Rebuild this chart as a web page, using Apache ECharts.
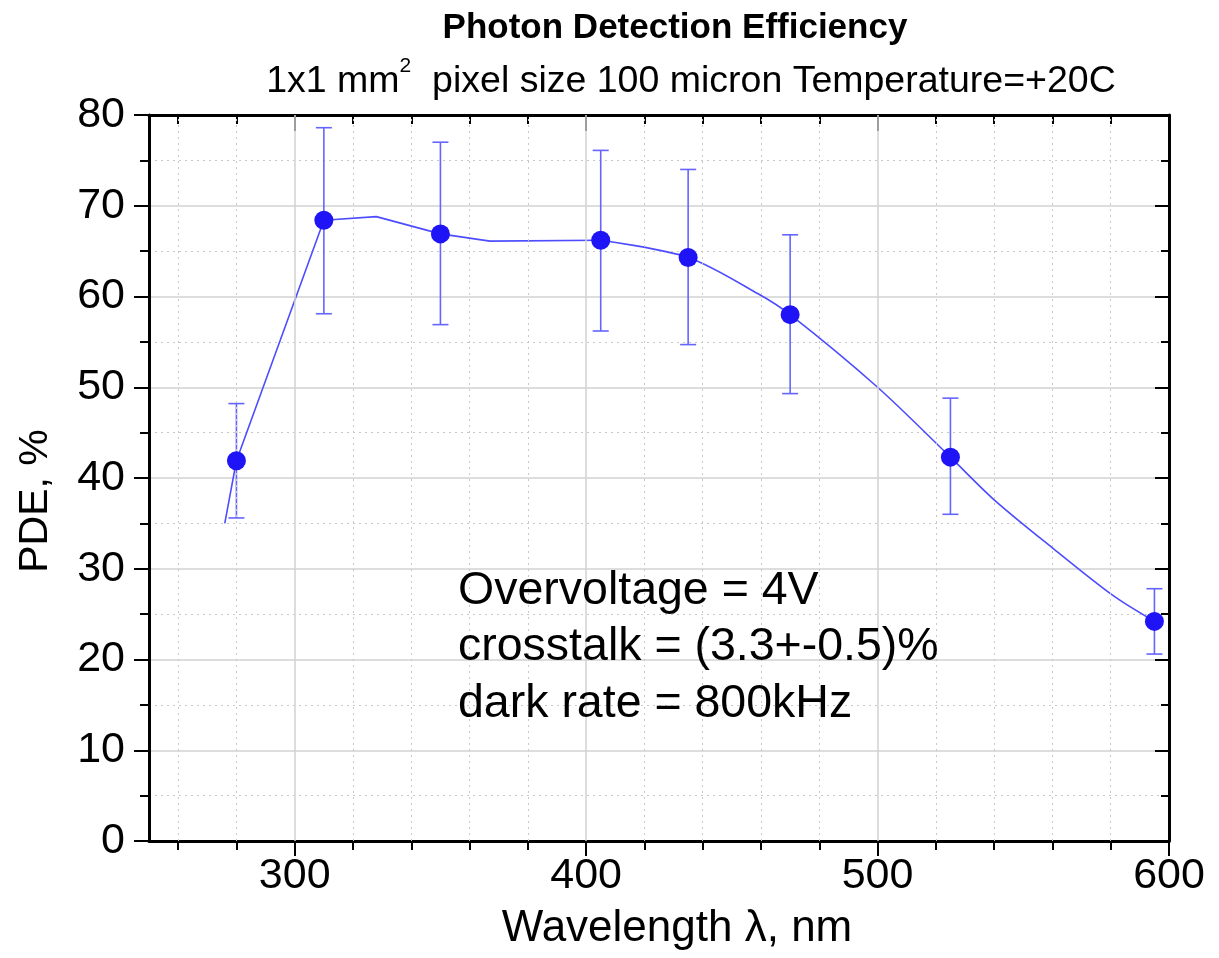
<!DOCTYPE html>
<html>
<head>
<meta charset="utf-8">
<script src="https://cdn.jsdelivr.net/npm/echarts@6/dist/echarts.min.js"></script>
<style>
html,body{margin:0;padding:0;background:#fff;}
#chart{width:1219px;height:958px;}
</style>
</head>
<body>
<div id="chart"></div>
<script>
// ---- data ----
const wavelengths = [280, 310, 350, 405, 435, 470, 525, 595];
const pde         = [41.9, 68.4, 66.9, 66.2, 64.3, 58.0, 42.3, 24.2];
const errLow      = [35.6, 58.1, 56.9, 56.2, 54.7, 49.3, 36.0, 20.6];
const errHigh     = [48.2, 78.6, 77.0, 76.1, 74.0, 66.8, 48.8, 27.8];

// guide curve: straight part on the left, smooth part on the right
const curveLeftX  = [276, 280, 310, 328, 350, 367, 405];
const curveLeftY  = [35.0, 41.9, 68.4, 68.8, 66.9, 66.1, 66.2];
const curveRightX = [405, 435, 459, 470, 500, 525, 540, 560, 581, 595];
const curveRightY = [66.2, 64.3, 60.3, 58.0, 50.0, 42.3, 37.6, 32.3, 27.0, 24.2];

// axis ticks
const xMajorTicks = [300, 400, 500, 600];
const xMinorTicks = [260, 280, 320, 340, 360, 380, 420, 440, 460, 480, 520, 540, 560, 580];
const xGridMajor  = [300, 400, 500];

const titleText = 'Photon Detection Efficiency';
const annotationLines = ['Overvoltage = 4V', 'crosstalk = (3.3+-0.5)%', 'dark rate = 800kHz'];

const FONT = '"Liberation Sans", Arial, Helvetica, sans-serif';
const BLUE = '#1e14f5';
const LINE = '#4d4dff';
const chart = echarts.init(document.getElementById('chart'), null, {renderer: 'canvas'});

const xBase = {
  type: 'value', min: 250, max: 600, gridIndex: 0,
  splitLine: {show: false}, minorSplitLine: {show: false}
};

const option = {
  backgroundColor: '#fff',
  animation: false,
  title: [
    {text: titleText, left: 670, top: 6, textAlign: 'center',
     textStyle: {fontFamily: FONT, fontSize: 35, fontWeight: 'bold', color: '#000'}},
    {text: '{a|1x1 mm}{s|2}{a|  pixel size 100 micron Temperature=+20C}', left: 686, top: 51, textAlign: 'center',
     textStyle: {fontFamily: FONT, color: '#000', fontWeight: 'normal',
       rich: {
         a: {fontFamily: FONT, fontSize: 37.5, fontWeight: 'normal', color: '#000', verticalAlign: 'bottom', lineHeight: 45},
         s: {fontFamily: FONT, fontSize: 21, fontWeight: 'normal', color: '#000', verticalAlign: 'top', lineHeight: 45}
       }}}
  ],
  grid: {left: 149, right: 50, top: 115, bottom: 117, containLabel: false},
  xAxis: [
    Object.assign({}, xBase, {
      position: 'bottom',
      axisLine: {show: true, onZero: false, lineStyle: {color: '#000', width: 3}},
      axisTick: {show: true, inside: false, length: 15, customValues: xMajorTicks, lineStyle: {color: '#000', width: 2}},
      axisLabel: {show: true, customValues: xMajorTicks, margin: 14, fontFamily: FONT, fontSize: 43, color: '#000'}
    }),
    Object.assign({}, xBase, {
      position: 'bottom',
      axisLine: {show: false, onZero: false},
      axisTick: {show: true, inside: false, length: 9, customValues: xMinorTicks, lineStyle: {color: '#000', width: 2}},
      axisLabel: {show: false}
    }),
    Object.assign({}, xBase, {
      position: 'top',
      axisLine: {show: true, onZero: false, lineStyle: {color: '#000', width: 3}},
      axisTick: {show: true, inside: true, length: 16, customValues: xMajorTicks, lineStyle: {color: '#000', width: 2}},
      axisLabel: {show: false}
    }),
    Object.assign({}, xBase, {
      position: 'top',
      axisLine: {show: false, onZero: false},
      axisTick: {show: true, inside: true, length: 9, customValues: xMinorTicks, lineStyle: {color: '#000', width: 2}},
      axisLabel: {show: false}
    })
  ],
  yAxis: [
    {
      type: 'value', min: 0, max: 80, interval: 10, position: 'left',
      axisLine: {show: true, onZero: false, lineStyle: {color: '#000', width: 3}},
      axisTick: {show: true, inside: false, length: 15, lineStyle: {color: '#000', width: 2}},
      minorTick: {show: true, splitNumber: 2, length: 9, lineStyle: {color: '#000', width: 2}},
      axisLabel: {show: true, margin: 24, fontFamily: FONT, fontSize: 43, color: '#000'},
      splitLine: {show: true, lineStyle: {color: '#d2d2d2', width: 1.5, type: 'solid'}},
      minorSplitLine: {show: true, lineStyle: {color: '#c8c8c8', width: 1, type: [2, 4]}}
    },
    {
      type: 'value', min: 0, max: 80, interval: 10, position: 'right',
      axisLine: {show: true, onZero: false, lineStyle: {color: '#000', width: 3}},
      axisTick: {show: true, inside: true, length: 14, lineStyle: {color: '#000', width: 2}},
      minorTick: {show: true, splitNumber: 2, length: 8, lineStyle: {color: '#000', width: 2}},
      axisLabel: {show: false},
      splitLine: {show: false}
    }
  ],
  series: [
    {
      // vertical grid lines
      type: 'line', xAxisIndex: 0, yAxisIndex: 0, data: [], silent: true, z: 1,
      markLine: {
        silent: true, symbol: 'none', label: {show: false}, animation: false,
        data: xGridMajor.map(v => ({xAxis: v, lineStyle: {color: '#d2d2d2', width: 1.5, type: 'solid'}}))
          .concat(xMinorTicks.map(v => ({xAxis: v, lineStyle: {color: '#c8c8c8', width: 1, type: [2, 4]}})))
      }
    },
    {
      name: 'curveLeft', type: 'line', xAxisIndex: 0, yAxisIndex: 0, z: 3,
      data: curveLeftX.map((x, i) => [x, curveLeftY[i]]),
      smooth: false, symbol: 'none',
      lineStyle: {color: LINE, width: 1.6}
    },
    {
      name: 'curveRight', type: 'line', xAxisIndex: 0, yAxisIndex: 0, z: 3,
      data: curveRightX.map((x, i) => [x, curveRightY[i]]),
      smooth: 0.3, symbol: 'none',
      lineStyle: {color: LINE, width: 1.6}
    },
    {
      name: 'errors', type: 'custom', xAxisIndex: 0, yAxisIndex: 0, z: 4,
      data: wavelengths.map((x, i) => [x, errLow[i], errHigh[i]]),
      encode: {x: 0, y: [1, 2]},
      renderItem: function (params, api) {
        const x = api.value(0);
        const pLo = api.coord([x, api.value(1)]);
        const pHi = api.coord([x, api.value(2)]);
        const w = 8;
        const st = {stroke: '#6464ff', lineWidth: 1.6};
        return {type: 'group', children: [
          {type: 'line', shape: {x1: pLo[0], y1: pLo[1], x2: pHi[0], y2: pHi[1]}, style: st},
          {type: 'line', shape: {x1: pLo[0] - w, y1: pLo[1], x2: pLo[0] + w, y2: pLo[1]}, style: st},
          {type: 'line', shape: {x1: pHi[0] - w, y1: pHi[1], x2: pHi[0] + w, y2: pHi[1]}, style: st}
        ]};
      }
    },
    {
      name: 'PDE', type: 'scatter', xAxisIndex: 0, yAxisIndex: 0, z: 5,
      data: wavelengths.map((x, i) => [x, pde[i]]),
      symbol: 'circle', symbolSize: 19,
      itemStyle: {color: BLUE, opacity: 1}
    }
  ],
  graphic: [
    {type: 'text', x: 36, y: 501, rotation: Math.PI / 2,
     style: {text: 'PDE, %', fontFamily: FONT, fontSize: 41, fill: '#000', align: 'center', verticalAlign: 'middle'}},
    {type: 'text', x: 677, y: 929,
     style: {text: 'Wavelength \u03bb, nm', fontFamily: FONT, fontSize: 44, fill: '#000', align: 'center', verticalAlign: 'middle'}}
  ].concat(annotationLines.map((t, i) => ({
    type: 'text', x: 458, y: 591 + i * 56.5, z: 10,
    style: {text: t, fontFamily: FONT, fontSize: 46.5, fill: '#000', align: 'left', verticalAlign: 'middle'}
  })))
};
chart.setOption(option);
</script>
</body>
</html>
